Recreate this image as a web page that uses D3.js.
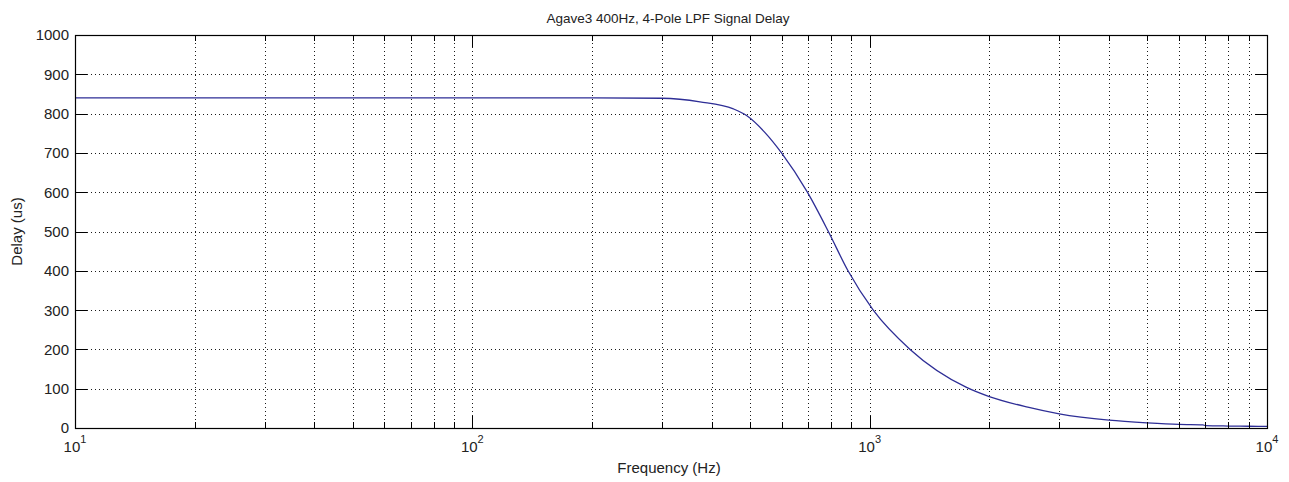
<!DOCTYPE html>
<html>
<head>
<meta charset="utf-8">
<script src="https://cdn.jsdelivr.net/npm/d3@7"></script>
<style>
  body { margin: 0; background: #fff; }
  text { font-family: "Liberation Sans", Arial, sans-serif; fill: #222; }
</style>
</head>
<body>
<svg id="chart"></svg>
<script>
// values (Hz, microseconds)
const freqs  = [10, 100, 200, 300, 374, 454, 490, 546, 600, 697, 787, 882, 1021, 1264, 1748, 2000, 2500, 3000, 4000, 5000, 6000, 6900, 7000, 8000, 9000, 10000];
const delays = [840, 840, 840, 839, 830, 812, 795, 751, 700, 600, 500, 400, 300, 200, 104, 80, 53, 36, 20, 13, 9, 8, 6, 5, 4.5, 4];
const yTicks = [0, 100, 200, 300, 400, 500, 600, 700, 800, 900, 1000];
const xMajor = [10, 100, 1000, 10000];

const title = "Agave3 400Hz, 4-Pole LPF Signal Delay";
const xTitle = "Frequency (Hz)";
const yTitle = "Delay (us)";

class DelayChart {
  constructor(_config) {
    this.config = {
      parentElement: _config.parentElement,
      containerWidth: _config.containerWidth || 1289,
      containerHeight: _config.containerHeight || 482,
      margin: _config.margin || {top: 35, right: 22, bottom: 54, left: 75}
    };
    this.initVis();
  }

  initVis() {
    let vis = this;
    vis.width = vis.config.containerWidth - vis.config.margin.left - vis.config.margin.right;
    vis.height = vis.config.containerHeight - vis.config.margin.top - vis.config.margin.bottom;

    vis.svg = d3.select(vis.config.parentElement)
      .attr('width', vis.config.containerWidth)
      .attr('height', vis.config.containerHeight);

    vis.chart = vis.svg.append('g')
      .attr('transform', `translate(${vis.config.margin.left},${vis.config.margin.top})`);

    vis.xScale = d3.scaleLog().domain([10, 10000]).range([0, vis.width]);
    vis.yScale = d3.scaleLinear().domain([0, 1000]).range([vis.height, 0]);

    vis.renderVis();
  }

  renderVis() {
    let vis = this;
    const allX = vis.xScale.ticks();
    const innerX = allX.filter(d => d > 10 && d < 10000);
    const innerY = yTicks.filter(d => d > 0 && d < 1000);
    const px = v => Math.round(v) + 0.5;

    // dotted grid
    const grid = vis.chart.append('g')
      .attr('stroke', '#1a1a1a')
      .attr('stroke-width', 1)
      .attr('stroke-dasharray', '1,3');
    grid.selectAll('.vg').data(innerX).join('line')
      .attr('x1', d => px(vis.xScale(d)))
      .attr('x2', d => px(vis.xScale(d)))
      .attr('y1', 0).attr('y2', vis.height);
    grid.selectAll('.hg').data(innerY).join('line')
      .attr('y1', d => px(vis.yScale(d)))
      .attr('y2', d => px(vis.yScale(d)))
      .attr('x1', 0).attr('x2', vis.width);

    // curve
    const line = d3.line()
      .x((d, i) => vis.xScale(freqs[i]))
      .y(d => vis.yScale(d))
      .curve(d3.curveMonotoneX);
    vis.chart.append('path')
      .datum(delays)
      .attr('d', line)
      .attr('fill', 'none')
      .attr('stroke', '#2e2e96')
      .attr('stroke-width', 1.3);

    // ticks on all four sides, pointing inward
    const ticks = vis.chart.append('g').attr('stroke', '#000').attr('stroke-width', 1);
    const tlen = d => xMajor.includes(d) ? 12 : 6;
    ticks.selectAll('.xb').data(innerX).join('line')
      .attr('x1', d => px(vis.xScale(d)))
      .attr('x2', d => px(vis.xScale(d)))
      .attr('y1', vis.height).attr('y2', d => vis.height - tlen(d));
    ticks.selectAll('.xt').data(innerX).join('line')
      .attr('x1', d => px(vis.xScale(d)))
      .attr('x2', d => px(vis.xScale(d)))
      .attr('y1', 0).attr('y2', d => tlen(d));
    ticks.selectAll('.yl').data(innerY).join('line')
      .attr('y1', d => px(vis.yScale(d)))
      .attr('y2', d => px(vis.yScale(d)))
      .attr('x1', 0).attr('x2', 12);
    ticks.selectAll('.yr').data(innerY).join('line')
      .attr('y1', d => px(vis.yScale(d)))
      .attr('y2', d => px(vis.yScale(d)))
      .attr('x1', vis.width).attr('x2', vis.width - 12);

    // box
    vis.chart.append('rect')
      .attr('x', 0.5).attr('y', 0.5)
      .attr('width', vis.width).attr('height', vis.height)
      .attr('fill', 'none').attr('stroke', '#000').attr('stroke-width', 1.2);

    // y tick labels
    vis.chart.selectAll('.ylab').data(yTicks).join('text')
      .attr('x', -6)
      .attr('y', d => vis.yScale(d))
      .attr('dy', '0.36em')
      .attr('text-anchor', 'end')
      .attr('font-size', '15px')
      .text(d => d);

    // x tick labels: 10 with exponent
    const xl = vis.chart.selectAll('.xlab').data(xMajor).join('text')
      .attr('x', d => vis.xScale(d))
      .attr('y', vis.height + 24)
      .attr('text-anchor', 'middle')
      .attr('font-size', '15px');
    xl.append('tspan').text('10');
    xl.append('tspan')
      .attr('dy', -9)
      .attr('font-size', '11px')
      .text(d => Math.round(Math.log10(d)));

    // titles
    vis.svg.append('text')
      .attr('x', 668)
      .attr('y', 23)
      .attr('text-anchor', 'middle')
      .attr('font-size', '13.5px')
      .text(title);

    vis.svg.append('text')
      .attr('x', 669)
      .attr('y', 473)
      .attr('text-anchor', 'middle')
      .attr('font-size', '15px')
      .text(xTitle);

    vis.svg.append('text')
      .attr('transform', `translate(22,${vis.config.margin.top + vis.height / 2}) rotate(-90)`)
      .attr('text-anchor', 'middle')
      .attr('font-size', '15px')
      .text(yTitle);
  }
}

new DelayChart({parentElement: '#chart'});
</script>
</body>
</html>
